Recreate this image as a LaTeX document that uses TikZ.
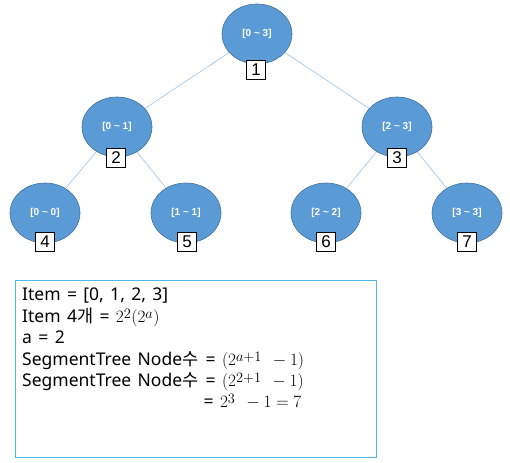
\documentclass[tikz,border=0pt]{standalone}
\usepackage{fontspec}
\setmainfont[WordSpace=1.4]{Noto Sans}
\newfontfamily\kr{Noto Sans CJK KR}
\newfontfamily\nodefont{Liberation Sans}
\usetikzlibrary{shapes.geometric}
\definecolor{nodefill}{HTML}{5B9BD5}
\definecolor{nodeline}{HTML}{41719C}
\definecolor{edgecol}{HTML}{9DC3E6}
\definecolor{boxline}{HTML}{4FB8E8}
\newcommand{\mth}[1]{{\fontsize{19}{19}\selectfont$#1$}}
\newcommand{\sps}[1]{^{\raisebox{-2.5pt}{$\scriptstyle #1$}}}
\begin{document}
\begin{tikzpicture}[x=1pt,y=-1pt,
  seg/.style={ellipse,draw=nodeline,fill=nodefill,line width=0.6pt,minimum width=70pt,minimum height=60pt,inner sep=0pt,text=white,font=\nodefont\fontsize{10}{11}\selectfont\bfseries},
  idx/.style={draw=black,fill=white,line width=0.7pt,minimum width=19pt,minimum height=19pt,inner sep=0pt,font=\nodefont\fontsize{17}{17}\selectfont},
  edge/.style={draw=edgecol,line width=0.6pt},
  txt/.style={anchor=base west,inner sep=0pt,text height=13pt,text depth=3pt,font=\fontsize{17.5}{18}\selectfont}]
\useasboundingbox (0,0) rectangle (510,462);
\coordinate (c1) at (257,34);
\coordinate (c2) at (117,127);
\coordinate (c3) at (397,127);
\coordinate (c4) at (45,213);
\coordinate (c5) at (186,213);
\coordinate (c6) at (326,213);
\coordinate (c7) at (467,213);
\draw[edge] (c1) -- (c2);
\draw[edge] (c1) -- (c3);
\draw[edge] (c2) -- (c4);
\draw[edge] (c2) -- (c5);
\draw[edge] (c3) -- (c6);
\draw[edge] (c3) -- (c7);
\node[seg] (n1) at (c1) {[0 \textasciitilde{} 3]};
\node[seg] (n2) at (c2) {[0 \textasciitilde{} 1]};
\node[seg] (n3) at (c3) {[2 \textasciitilde{} 3]};
\node[seg] (n4) at (c4) {[0 \textasciitilde{} 0]};
\node[seg] (n5) at (c5) {[1 \textasciitilde{} 1]};
\node[seg] (n6) at (c6) {[2 \textasciitilde{} 2]};
\node[seg] (n7) at (c7) {[3 \textasciitilde{} 3]};
\node[idx] (i1) at (256,70) {1};
\node[idx] (i2) at (116,158) {2};
\node[idx] (i3) at (397,158) {3};
\node[idx] (i4) at (45,242) {4};
\node[idx] (i5) at (187,242) {5};
\node[idx] (i6) at (326,242) {6};
\node[idx] (i7) at (467,242) {7};
% formula box
\node[draw=boxline,line width=0.9pt,minimum width=361pt,minimum height=177pt,anchor=north west,inner sep=0pt] (box) at (15,280) {};
\node[txt] (t1) at (22,300) {Item = [0, 1, 2, 3]};
\node[txt] (t2) at (22,322) {Item 4{\kr 개} = \mth{2\sps{2}(2\sps{a})}};
\node[txt] (t3) at (22,343) {a = 2};
\node[txt] (t4a) at (22,365) {SegmentTree Node{\kr 수}};
\node[txt] (t4b) at ([xshift=7pt]t4a.base east) {= \mth{(2\sps{a+1}\ - 1)}};
\node[txt] (t5a) at (22,386) {SegmentTree Node{\kr 수}};
\node[txt] (t5b) at ([xshift=7pt]t5a.base east) {= \mth{(2\sps{2+1}\ - 1)}};
\coordinate (b6) at (0,407);
\node[txt] (t6) at ([xshift=-2pt]t4b.base west |- b6) {= \mth{2\sps{3}\ - 1 = 7}};
\end{tikzpicture}
\end{document}
